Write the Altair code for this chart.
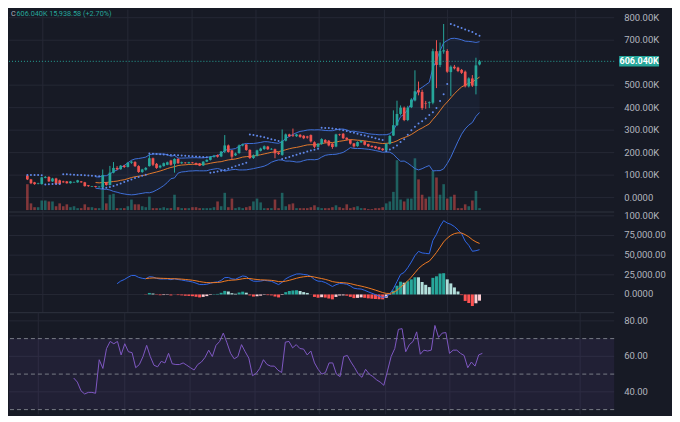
import altair as alt
import pandas as pd

# ---------------- values (prices in thousands) ----------------
opens = [98, 81, 68, 62, 60, 88, 92, 72, 85, 77, 72, 72, 64, 68, 68, 72, 68, 55, 49, 51, 47,
         47, 68, 56, 111, 132, 126, 142, 136, 155, 158, 140, 114, 124, 140, 175, 150, 134, 140, 146, 165,
         150, 172, 153, 155, 153, 156, 154, 152, 143, 160, 168, 181, 189, 183, 205, 232, 210, 188, 198, 232,
         236, 212, 176, 186, 208, 216, 227, 215, 215, 200, 190, 253, 281, 278, 273, 279, 275, 272, 278, 246,
         226, 238, 256, 253, 240, 227, 280, 284, 266, 256, 241, 229, 246, 250, 238, 230, 228, 224, 218, 210,
         239, 276, 322, 372, 400, 345, 402, 432, 478, 470, 420, 420, 422, 651, 590, 650, 652, 558, 582, 578,
         568, 560, 495, 530, 496, 592]
highs = [101, 83, 70, 66, 92, 96, 95, 88, 88, 80, 75, 74, 74, 71, 79, 74, 70, 56, 52, 52, 50,
         125, 70, 141, 158, 140, 145, 146, 158, 164, 162, 144, 128, 136, 192, 178, 154, 146, 156, 160, 168,
         175, 175, 160, 158, 159, 158, 156, 154, 162, 170, 185, 190, 192, 207, 278, 236, 212, 200, 236, 240,
         238, 215, 192, 213, 222, 232, 230, 220, 218, 203, 303, 285, 284, 307, 284, 283, 278, 275, 281, 250,
         242, 264, 260, 256, 242, 284, 284, 287, 268, 258, 243, 250, 255, 252, 240, 232, 230, 226, 220, 242,
         278, 388, 431, 410, 405, 408, 442, 566, 516, 480, 430, 428, 662, 700, 690, 772, 660, 588, 590, 582,
         572, 565, 535, 545, 622, 612]
lows = [78, 60, 57, 59, 58, 86, 70, 70, 58, 58, 66, 62, 62, 66, 66, 66, 49, 48, 47, 45, 45,
        42, 53, 54, 108, 122, 124, 132, 134, 150, 136, 110, 110, 120, 138, 140, 128, 130, 138, 144, 142,
        111, 150, 150, 151, 151, 152, 144, 140, 141, 158, 165, 178, 178, 180, 198, 200, 168, 185, 195, 228,
        208, 172, 172, 183, 205, 212, 212, 212, 175, 190, 186, 250, 270, 270, 270, 266, 260, 262, 245, 220,
        222, 235, 242, 228, 217, 224, 275, 260, 254, 236, 222, 226, 243, 232, 225, 222, 217, 212, 208, 206,
        236, 274, 318, 365, 340, 340, 398, 428, 455, 390, 395, 398, 415, 487, 580, 640, 555, 452, 570, 558,
        550, 490, 490, 492, 459, 588]
closes = [81, 64, 60, 63, 90, 92, 72, 85, 60, 60, 68, 64, 72, 69, 77, 68, 51, 51, 50, 47, 48,
          100, 56, 111, 132, 126, 142, 136, 155, 160, 140, 114, 125, 132, 175, 146, 132, 142, 153, 157, 146,
          172, 153, 157, 154, 157, 155, 147, 142, 160, 168, 182, 186, 182, 205, 232, 203, 182, 196, 232, 237,
          212, 176, 188, 210, 218, 228, 215, 216, 197, 194, 253, 281, 273, 275, 281, 270, 264, 267, 250, 226,
          240, 260, 246, 232, 225, 281, 279, 264, 258, 240, 228, 247, 252, 235, 228, 225, 220, 215, 211, 239,
          274, 322, 372, 400, 345, 400, 436, 473, 468, 398, 418, 424, 651, 590, 652, 655, 560, 582, 575, 563,
          555, 495, 530, 498, 588, 606.04]
volumes = [27, 7, 3, 3, 10, 10, 9, 9, 4, 7, 4, 6, 3, 4, 2, 2, 6, 3, 3, 2, 2,
           26, 7, 16, 17, 2, 2, 2, 4, 11, 6, 6, 4, 3, 14, 2, 2, 2, 3, 2, 2,
           16, 3, 2, 2, 2, 3, 3, 2, 2, 2, 2, 3, 9, 4, 18, 3, 12, 2, 3, 2,
           3, 4, 9, 12, 8, 2, 2, 2, 11, 2, 18, 4, 6, 7, 2, 2, 2, 2, 3, 5,
           3, 2, 2, 2, 3, 5, 3, 2, 6, 2, 3, 4, 2, 2, 1, 1, 2, 2, 3, 7,
           9, 19, 52, 11, 9, 12, 12, 54, 32, 16, 12, 14, 41, 34, 16, 27, 12, 14, 16, 2,
           2, 6, 4, 10, 20, 2]
sar_values = [101, 101, 100, 100, 99, 58, 59, 60, 60, 61, 104,
              104, 103, 102, 101, 100, 99, 98, 97, 96, 95,
              42, 44, 47, 52, 57, 63, 69, 75, 81, 87, 92, 97, 102,
              196, 195, 194, 193, 192, 191, 190, 189, 188, 187, 186, 185, 184, 183, 182, 181, 180,
              111, 113, 116, 119, 123, 128, 134, 140, 145, 150, 155,
              281, 278, 275, 272, 268, 264, 260, 256, 252,
              172, 176, 181, 186, 191, 196, 200, 205, 209, 213, 217,
              311, 310, 309, 307, 305, 303, 300, 296, 292, 288, 284, 280, 276, 272, 268, 264, 260, 256,
              206, 214, 222, 232, 247, 260, 280, 300, 315, 330, 340, 352, 367, 380, 398, 430, 460, 505,
              772, 766, 760, 754, 748, 742, 736, 728, 720]
rsi_values = [47.8, 45.5, 40.6, 38.8, 39.7, 39.7, 39.2, 58.1, 53.2, 64.4,
              68.4, 67.1, 68.4, 60.8, 67.1, 62.6, 62.1, 53.6, 55.4, 59.9,
              66.2, 59.9, 55.0, 54.1, 57.2, 56.3, 61.7, 55.8, 55.4, 55.4,
              56.3, 55.0, 53.6, 52.3, 55.4, 56.8, 59.4, 63.5, 59.9, 66.2,
              68.4, 73.1, 67.7, 61.7, 58.6, 59.9, 66.6, 62.6, 59.0, 49.1,
              50.4, 53.2, 58.1, 55.4, 54.5, 54.5, 52.2, 50.9, 68.0, 68.4,
              64.8, 66.6, 64.4, 64.1, 60.8, 63.0, 56.3, 52.7, 50.0, 50.9,
              56.3, 56.3, 50.0, 48.6, 59.9, 60.5, 56.8, 53.6, 50.0, 48.2,
              52.7, 50.0, 48.6, 46.8, 45.5, 43.7, 51.8, 59.9, 64.4, 75.2,
              75.6, 62.6, 66.6, 68.4, 73.8, 61.2, 63.5, 63.0, 63.5, 77.4,
              70.7, 73.1, 73.4, 61.7, 63.5, 63.5, 61.7, 60.5, 53.6, 56.8,
              54.5, 60.8, 61.7]
RSI_FIRST = 14

last_price = 606.04
last_price_label = "606.040K"
legend_prefix = "C"
legend_text = "606.040K 15,938.58 (+2.70%)"

price_ticks = [0, 100, 200, 300, 400, 500, 700, 800]
price_tick_labels = ["0.0000", "100.00K", "200.00K", "300.00K", "400.00K", "500.00K", "700.00K", "800.00K"]
macd_ticks = [0, 25000, 50000, 75000, 100000]
macd_tick_labels = ["0.0000", "25,000.00", "50,000.00", "75,000.00", "100.00K"]
rsi_ticks = [40, 60, 80]
rsi_tick_labels = ["40.00", "60.00", "80.00"]
rsi_levels = [70, 50, 30]
time_grid = [4.3, 28, 45.9, 63.7, 81.3, 99.5, 117.1, 134.9, 152.8]

# ---------------- styling ----------------
BG = "#171a25"
UP, DOWN = "#26a69a", "#ef5350"
GRID = "#252835"
SEP = "#2e323e"
LABEL = "#b2b5be"
BB_BLUE = "#3f6fd8"
BB_ORANGE = "#e0782c"
SAR_COLOR = "#6088ea"
MACD_BLUE = "#2f66e6"
SIGNAL_ORANGE = "#f07a22"
RSI_PURPLE = "#7e57c2"
FONT = "Roboto"

W, H1, H2, H3 = 607, 203, 101, 102
LABEL_X = W + 10
X_DOMAIN = [-3.73, 162.13]
P_DOMAIN = [-64, 836]
V_DOMAIN = [-2, 209]
M_DOMAIN = [-23200, 104900]
R_DOMAIN = [27.3, 84.6]

N = len(closes)
idx = list(range(N))

# ---------------- indicators derived from the closes ----------------
def ema(vals, n):
    out = [None] * len(vals)
    valid = [k for k, v in enumerate(vals) if v is not None]
    if len(valid) < n:
        return out
    start = valid[0]
    seed = start + n - 1
    out[seed] = sum(vals[start:seed + 1]) / n
    a = 2.0 / (n + 1)
    for k in range(seed + 1, len(vals)):
        out[k] = a * vals[k] + (1 - a) * out[k - 1]
    return out

raw_close = [c * 1000 for c in closes]
e12, e26 = ema(raw_close, 12), ema(raw_close, 26)
macd = [None if (a is None or b is None) else a - b for a, b in zip(e12, e26)]
signal = ema(macd, 9)
hist = [None if (m is None or s is None) else m - s for m, s in zip(macd, signal)]
hcol = []
prev = None
for h in hist:
    if h is None:
        hcol.append(None)
    else:
        p = h if prev is None else prev
        if h >= 0:
            hcol.append("#26a69a" if h > p else "#b2dfdb")
        else:
            hcol.append("#ffcdd2" if h > p else "#ff5252")
        prev = h

bb_rows = []
for k in range(19, N):
    win = closes[k - 19:k + 1]
    m = sum(win) / 20.0
    sd = (sum((v - m) ** 2 for v in win) / 20.0) ** 0.5
    bb_rows.append({"i": k, "mid": m, "upper": m + 2 * sd, "lower": m - 2 * sd})
bb_df = pd.DataFrame(bb_rows)

body_lo, body_hi = [], []
for o, c in zip(opens, closes):
    lo, hi = min(o, c), max(o, c)
    if hi - lo < 2.5:
        mid = (hi + lo) / 2
        lo, hi = mid - 1.25, mid + 1.25
    body_lo.append(lo)
    body_hi.append(hi)

price_df = pd.DataFrame({
    "i": idx, "o": opens, "h": highs, "l": lows, "c": closes,
    "blo": body_lo, "bhi": body_hi, "vol": volumes, "sar": sar_values,
    "col": [UP if c >= o else DOWN for o, c in zip(opens, closes)],
    "zero": [0] * N,
})
macd_df = pd.DataFrame({"i": idx, "macd": macd, "signal": signal, "hist": hist, "hcol": hcol, "zero": [0] * N})
macd_line_df = macd_df[macd_df["macd"].notna()]
sig_df = macd_df[macd_df["signal"].notna()]
hist_df = macd_df[macd_df["hist"].notna()]
rsi_df = pd.DataFrame({"i": list(range(RSI_FIRST, RSI_FIRST + len(rsi_values))), "rsi": rsi_values})
band_df = pd.DataFrame({"hi": [max(rsi_levels)], "lo": [min(rsi_levels)]})
level_df = pd.DataFrame({"v": rsi_levels})
last_df = pd.DataFrame({"p": [last_price], "lab": [last_price_label]})
legend_df = pd.DataFrame({"pre": [legend_prefix], "t": [legend_text]})
tgrid_df = pd.DataFrame({"g": time_grid})
pt_df = pd.DataFrame({"v": price_ticks, "lab": price_tick_labels})
mt_df = pd.DataFrame({"v": macd_ticks, "lab": macd_tick_labels})
rt_df = pd.DataFrame({"v": rsi_ticks, "lab": rsi_tick_labels})


# ---------------- helpers ----------------
def X():
    return alt.X("i:Q", scale=alt.Scale(domain=X_DOMAIN, nice=False, zero=False), axis=None)


def YS(field, domain):
    return alt.Y(field, type="quantitative", scale=alt.Scale(domain=domain, nice=False, zero=False), axis=None)


def vgrid():
    return alt.Chart(tgrid_df).mark_rule(color=GRID, strokeWidth=1).encode(
        x=alt.X("g:Q", scale=alt.Scale(domain=X_DOMAIN, nice=False, zero=False), axis=None))


def hgrid(df, domain):
    return alt.Chart(df).mark_rule(color=GRID, strokeWidth=1).encode(y=YS("v", domain))


def tick_labels(df, domain):
    return alt.Chart(df).mark_text(align="left", baseline="middle", color=LABEL, fontSize=9.5, font=FONT).encode(
        x=alt.value(LABEL_X), y=YS("v", domain), text="lab:N")


def separator(domain):
    return alt.Chart(last_df).mark_rule(color=SEP, strokeWidth=1).encode(
        y=alt.Y(datum=domain[0], type="quantitative", scale=alt.Scale(domain=domain, nice=False, zero=False),
                axis=None))


# ---------------- price pane ----------------
grid_p = alt.layer(vgrid(), hgrid(pt_df, P_DOMAIN))
vol_layer = alt.Chart(price_df).mark_bar(size=2.6, opacity=0.5).encode(
    x=X(), y=YS("vol", V_DOMAIN), y2="zero:Q", color=alt.Color("col:N", scale=None))

bb_fill = alt.Chart(bb_df).mark_area(color=BB_BLUE, opacity=0.07).encode(
    x=X(), y=YS("upper", P_DOMAIN), y2="lower:Q")
bb_up = alt.Chart(bb_df).mark_line(color=BB_BLUE, strokeWidth=1).encode(x=X(), y=YS("upper", P_DOMAIN))
bb_lo = alt.Chart(bb_df).mark_line(color=BB_BLUE, strokeWidth=1).encode(x=X(), y=YS("lower", P_DOMAIN))
bb_mid = alt.Chart(bb_df).mark_line(color=BB_ORANGE, strokeWidth=1).encode(x=X(), y=YS("mid", P_DOMAIN))
wicks = alt.Chart(price_df).mark_rule(strokeWidth=1).encode(
    x=X(), y=YS("l", P_DOMAIN), y2="h:Q", color=alt.Color("col:N", scale=None))
bodies = alt.Chart(price_df).mark_bar(size=2.7).encode(
    x=X(), y=YS("blo", P_DOMAIN), y2="bhi:Q", color=alt.Color("col:N", scale=None))
sar = alt.Chart(price_df).mark_circle(size=4, color=SAR_COLOR, opacity=1).encode(
    x=X(), y=YS("sar", P_DOMAIN))
price_line = alt.Chart(last_df).mark_rule(color=UP, strokeDash=[1, 2], strokeWidth=1).encode(
    y=YS("p", P_DOMAIN))
tag = alt.Chart(last_df).mark_point(shape="M-1,-0.265L1,-0.265L1,0.265L-1,0.265Z", size=1600,
                                    filled=True, color=UP, opacity=1, strokeWidth=0).encode(
    x=alt.value(W + 25), y=YS("p", P_DOMAIN))
tag_text = alt.Chart(last_df).mark_text(color="white", fontSize=9, font=FONT, fontWeight="bold").encode(
    x=alt.value(W + 25), y=YS("p", P_DOMAIN), text="lab:N")
leg_pre = alt.Chart(legend_df).mark_text(align="left", baseline="middle", color=LABEL, fontSize=7.3,
                                         font=FONT).encode(x=alt.value(2), y=alt.value(4), text="pre:N")
leg_txt = alt.Chart(legend_df).mark_text(align="left", baseline="middle", color=UP, fontSize=7.3,
                                         font=FONT).encode(x=alt.value(7.5), y=alt.value(4), text="t:N")
spacer = alt.Chart(last_df).mark_rule(color=BG, strokeWidth=1).encode(
    x=alt.value(W + 57), y=alt.value(0), y2=alt.value(H1))

price_layers = alt.layer(bb_fill, bb_up, bb_lo, bb_mid, wicks, bodies, sar, price_line, tag, tag_text,
                         tick_labels(pt_df, P_DOMAIN), leg_pre, leg_txt, separator(P_DOMAIN), spacer)
price_pane = alt.layer(grid_p, vol_layer, price_layers).resolve_scale(y="independent").properties(
    width=W, height=H1)

# ---------------- MACD pane ----------------
hist_bars = alt.Chart(hist_df).mark_bar(size=3).encode(
    x=X(), y=YS("hist", M_DOMAIN), y2="zero:Q", color=alt.Color("hcol:N", scale=None))
macd_line = alt.Chart(macd_line_df).mark_line(color=MACD_BLUE, strokeWidth=1).encode(
    x=X(), y=YS("macd", M_DOMAIN))
sig_line = alt.Chart(sig_df).mark_line(color=SIGNAL_ORANGE, strokeWidth=1).encode(
    x=X(), y=YS("signal", M_DOMAIN))
macd_pane = alt.layer(vgrid(), hgrid(mt_df, M_DOMAIN), hist_bars, macd_line, sig_line,
                      tick_labels(mt_df, M_DOMAIN), separator(M_DOMAIN)).properties(width=W, height=H2)

# ---------------- RSI pane ----------------
band = alt.Chart(band_df).mark_rect(color=RSI_PURPLE, opacity=0.1).encode(
    y=YS("hi", R_DOMAIN), y2="lo:Q")
levels = alt.Chart(level_df).mark_rule(color="#787b86", strokeDash=[4, 3], strokeWidth=1).encode(
    y=YS("v", R_DOMAIN))
rsi_line = alt.Chart(rsi_df).mark_line(color=RSI_PURPLE, strokeWidth=1).encode(
    x=X(), y=YS("rsi", R_DOMAIN))
rsi_pane = alt.layer(vgrid(), hgrid(rt_df, R_DOMAIN), band, levels, rsi_line,
                     tick_labels(rt_df, R_DOMAIN)).properties(width=W, height=H3)

chart = alt.vconcat(price_pane, macd_pane, rsi_pane, spacing=0, bounds="flush").properties(
    padding=0, background=BG).configure_view(strokeWidth=0)

chart.save("out.html", embed_options={"renderer": "svg", "actions": False})
